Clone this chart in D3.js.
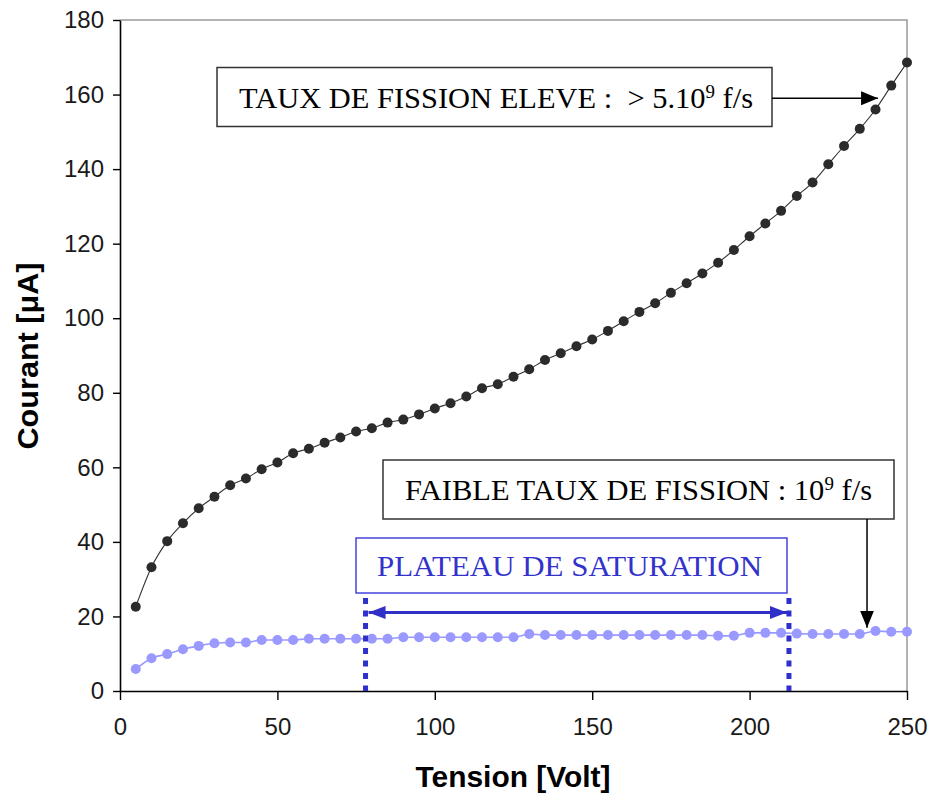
<!DOCTYPE html>
<html>
<head>
<meta charset="utf-8">
<script src="https://cdn.jsdelivr.net/npm/d3@7"></script>
<style>
  html, body { margin: 0; padding: 0; background: #fff; }
  svg { display: block; }
</style>
</head>
<body>
<svg id="chart" width="929" height="799"></svg>
<script>
// ---- data ----
const tension = [5, 10, 15, 20, 25, 30, 35, 40, 45, 50, 55, 60, 65, 70, 75, 80, 85, 90, 95, 100,
  105, 110, 115, 120, 125, 130, 135, 140, 145, 150, 155, 160, 165, 170, 175, 180, 185, 190, 195, 200,
  205, 210, 215, 220, 225, 230, 235, 240, 245, 250];
const courantEleve = [22.6, 33.2, 40.2, 45, 49, 52.1, 55.2, 57, 59.5, 61.3, 63.8, 65, 66.6, 68, 69.6, 70.5, 72, 72.8, 74.2, 75.8,
  77.2, 79, 81.2, 82.3, 84.3, 86.3, 88.8, 90.6, 92.5, 94.3, 96.6, 99.2, 101.7, 104, 106.8, 109.4, 112, 114.9, 118.3, 122,
  125.4, 128.8, 132.8, 136.4, 141.3, 146.2, 150.8, 156, 162.4, 168.6];
const courantFaible = [5.9, 8.8, 9.9, 11.2, 12.1, 12.8, 13, 13, 13.7, 13.7, 13.7, 14, 14, 14, 14, 14, 14, 14.4, 14.4, 14.4,
  14.4, 14.4, 14.4, 14.4, 14.4, 15.3, 15, 15, 15, 15, 15, 15, 15, 15, 15, 15, 15, 14.8, 14.8, 15.6,
  15.6, 15.6, 15.4, 15.3, 15.3, 15.3, 15.3, 16.1, 15.9, 15.9];
const xTicks = [0, 50, 100, 150, 200, 250];
const yTicks = [0, 20, 40, 60, 80, 100, 120, 140, 160, 180];
const plateauRange = [78, 212.5];
const labelEleve = "TAUX DE FISSION ELEVE :  > 5.10";
const labelFaible = "FAIBLE TAUX DE FISSION : 10";
const labelPlateau = "PLATEAU DE SATURATION";

// ---- layout ----
const svg = d3.select("#chart");
const x = d3.scaleLinear().domain([0, 250]).range([120, 907]);
const y = d3.scaleLinear().domain([0, 180]).range([691, 20]);

const defs = svg.append("defs");
function arrowMarker(id, color, w, h) {
  defs.append("marker").attr("id", id)
    .attr("viewBox", `0 0 ${w} ${h}`).attr("refX", w).attr("refY", h / 2)
    .attr("markerWidth", w).attr("markerHeight", h).attr("markerUnits", "userSpaceOnUse")
    .attr("orient", "auto-start-reverse")
    .append("path").attr("d", `M0,0 L${w},${h / 2} L0,${h} Z`).attr("fill", color);
}
arrowMarker("arrBlack", "#000", 17, 14);
arrowMarker("arrBlue", "#3030c8", 17, 13);

// plot frame (gray top & right)
svg.append("path")
  .attr("d", `M${x(0)},${y(180)} H${x(250)} V${y(0)}`)
  .attr("fill", "none").attr("stroke", "#9a9a9a").attr("stroke-width", 1.5);

// axes
const xAxis = svg.append("g").attr("transform", `translate(0,${y(0)})`)
  .call(d3.axisBottom(x).tickValues(xTicks).tickSize(9).tickPadding(18).tickSizeOuter(0));
const yAxis = svg.append("g").attr("transform", `translate(${x(0)},0)`)
  .call(d3.axisLeft(y).tickValues(yTicks).tickSize(7).tickPadding(9).tickSizeOuter(0));
[xAxis, yAxis].forEach(g => {
  g.select(".domain").attr("stroke", "#000").attr("stroke-width", 1.6);
  g.selectAll(".tick line").attr("stroke", "#000").attr("stroke-width", 1.4);
  g.selectAll(".tick text").attr("fill", "#1a1a1a")
    .style("font-family", "'Liberation Sans', Arial, sans-serif").style("font-size", "24px");
});
xAxis.selectAll(".tick text").attr("dy", "0.71em");

// axis titles
svg.append("text").attr("x", 513).attr("y", 787).attr("text-anchor", "middle")
  .attr("textLength", 195).attr("lengthAdjust", "spacingAndGlyphs")
  .style("font-family", "'Liberation Sans', Arial, sans-serif").style("font-weight", "bold").style("font-size", "29px")
  .text("Tension [Volt]");
svg.append("text").attr("transform", "translate(38,356) rotate(-90)").attr("text-anchor", "middle")
  .attr("textLength", 187).attr("lengthAdjust", "spacingAndGlyphs")
  .style("font-family", "'Liberation Sans', Arial, sans-serif").style("font-weight", "bold").style("font-size", "29px")
  .text("Courant [μA]");

// series
const ptsEleve = tension.map((t, i) => [t, courantEleve[i]]);
const ptsFaible = tension.map((t, i) => [t, courantFaible[i]]);
const line = d3.line().x(d => x(d[0])).y(d => y(d[1])).curve(d3.curveMonotoneX);

svg.append("path").datum(ptsFaible).attr("d", line)
  .attr("fill", "none").attr("stroke", "#9999ff").attr("stroke-width", 1.6);
svg.append("g").selectAll("circle").data(ptsFaible).join("circle")
  .attr("cx", d => x(d[0])).attr("cy", d => y(d[1])).attr("r", 5).attr("fill", "#9999ff");

svg.append("path").datum(ptsEleve).attr("d", line)
  .attr("fill", "none").attr("stroke", "#333").attr("stroke-width", 1.1);
svg.append("g").selectAll("circle").data(ptsEleve).join("circle")
  .attr("cx", d => x(d[0])).attr("cy", d => y(d[1])).attr("r", 5).attr("fill", "#2b2b2b");

// ---- annotations ----
const serif = "'Liberation Serif', 'Times New Roman', serif";

// high-rate box
svg.append("rect").attr("x", 217).attr("y", 67.5).attr("width", 555).attr("height", 59)
  .attr("fill", "#fff").attr("stroke", "#333").attr("stroke-width", 1.5);
const t1 = svg.append("text").attr("x", 239).attr("y", 108)
  .attr("textLength", 514).attr("lengthAdjust", "spacingAndGlyphs")
  .style("white-space", "pre")
  .style("font-family", serif).style("font-size", "29px").attr("fill", "#000");
t1.append("tspan").text(labelEleve);
t1.append("tspan").attr("dy", -10).style("font-size", "18px").text("9");
t1.append("tspan").attr("dy", 10).text(" f/s");
svg.append("line").attr("x1", 772).attr("y1", y(159)).attr("x2", x(240.8)).attr("y2", y(159))
  .attr("stroke", "#000").attr("stroke-width", 1.5).attr("marker-end", "url(#arrBlack)");

// low-rate box
svg.append("rect").attr("x", 383).attr("y", 460).attr("width", 511).attr("height", 59)
  .attr("fill", "#fff").attr("stroke", "#333").attr("stroke-width", 1.5);
const t2 = svg.append("text").attr("x", 405).attr("y", 500)
  .attr("textLength", 467).attr("lengthAdjust", "spacingAndGlyphs")
  .style("font-family", serif).style("font-size", "29px").attr("fill", "#000");
t2.append("tspan").text(labelFaible);
t2.append("tspan").attr("dy", -10).style("font-size", "18px").text("9");
t2.append("tspan").attr("dy", 10).text(" f/s");
svg.append("line").attr("x1", x(237.3)).attr("y1", 519).attr("x2", x(237.3)).attr("y2", y(17))
  .attr("stroke", "#000").attr("stroke-width", 1.5).attr("marker-end", "url(#arrBlack)");

// plateau box
svg.append("rect").attr("x", 356).attr("y", 538).attr("width", 431).attr("height", 55)
  .attr("fill", "#fff").attr("stroke", "#4444dd").attr("stroke-width", 1.5);
svg.append("text").attr("x", 377).attr("y", 576)
  .attr("textLength", 385).attr("lengthAdjust", "spacingAndGlyphs")
  .style("font-family", serif).style("font-size", "29px").attr("fill", "#3333cc")
  .text(labelPlateau);

// plateau limits (dotted) and double arrow
plateauRange.forEach(v => {
  svg.append("line").attr("x1", x(v)).attr("x2", x(v)).attr("y1", 598).attr("y2", y(0))
    .attr("stroke", "#2f2fcc").attr("stroke-width", 5).attr("stroke-dasharray", "6,6.5");
});
svg.append("line").attr("x1", x(plateauRange[0]) + 3).attr("x2", x(plateauRange[1]) - 2)
  .attr("y1", 612.5).attr("y2", 612.5)
  .attr("stroke", "#3030c8").attr("stroke-width", 3)
  .attr("marker-start", "url(#arrBlue)").attr("marker-end", "url(#arrBlue)");
</script>
</body>
</html>
